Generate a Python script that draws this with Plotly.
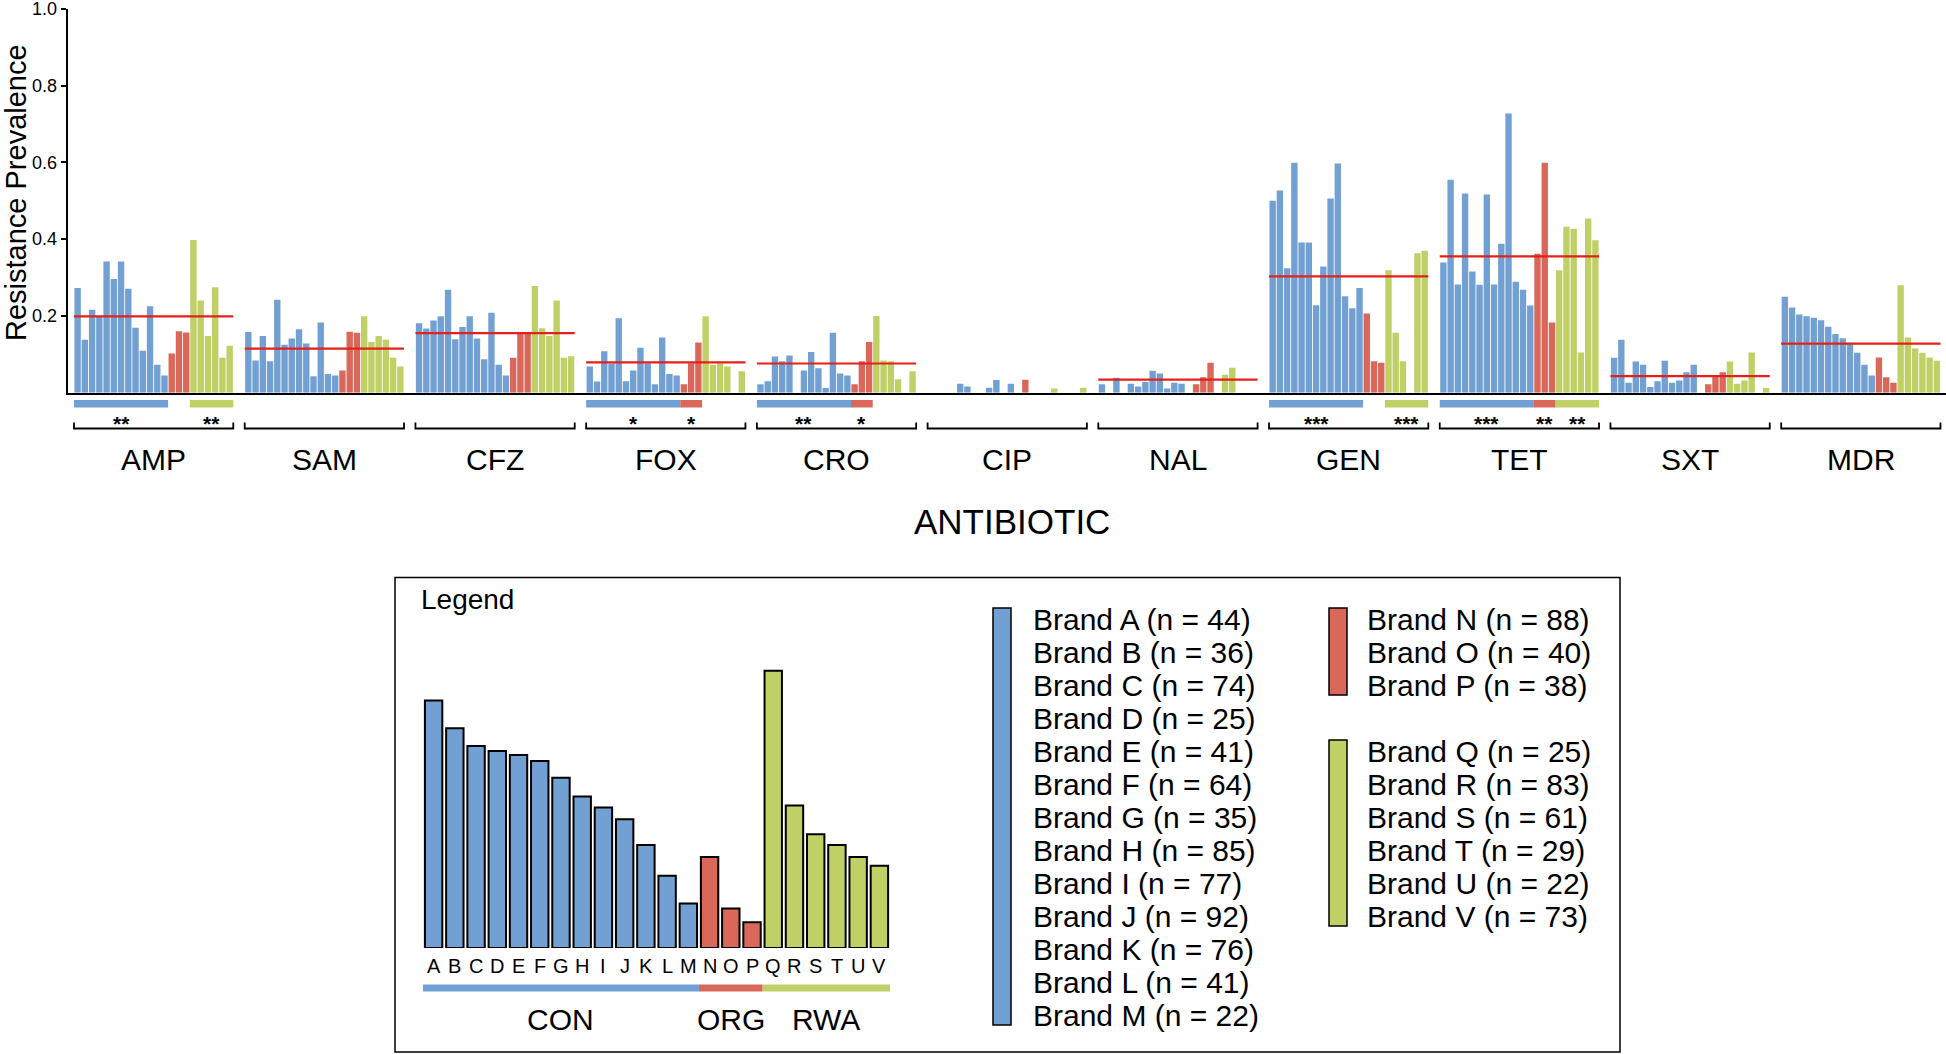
import plotly.graph_objects as go

# ---------------- data ----------------
antibiotics = ["AMP", "SAM", "CFZ", "FOX", "CRO", "CIP", "NAL", "GEN", "TET", "SXT", "MDR"]
brands = list("ABCDEFGHIJKLMNOPQRSTUV")
sample_n = [44, 36, 74, 25, 41, 64, 35, 85, 77, 92, 76, 41, 22, 88, 40, 38, 25, 83, 61, 29, 22, 73]
brand_category = ["CON"] * 13 + ["ORG"] * 3 + ["RWA"] * 6
categories = ["CON", "ORG", "RWA"]

AMP = [0.273, 0.138, 0.216, 0.199, 0.342, 0.296, 0.342, 0.271, 0.169, 0.109, 0.225, 0.073, 0.045,
       0.102, 0.160, 0.157, 0.398, 0.240, 0.148, 0.275, 0.091, 0.122]
SAM = [0.158, 0.084, 0.148, 0.082, 0.242, 0.125, 0.141, 0.165, 0.128, 0.043, 0.183, 0.049, 0.045,
       0.058, 0.159, 0.156, 0.199, 0.132, 0.148, 0.138, 0.091, 0.068]
CFZ = [0.181, 0.167, 0.188, 0.199, 0.268, 0.139, 0.171, 0.199, 0.141, 0.087, 0.208, 0.073, 0.045,
       0.091, 0.158, 0.155, 0.278, 0.168, 0.148, 0.240, 0.091, 0.095]
FOX = [0.068, 0.029, 0.108, 0.076, 0.194, 0.030, 0.058, 0.117, 0.077, 0.022, 0.144, 0.049, 0.045,
       0.022, 0.077, 0.131, 0.199, 0.073, 0.077, 0.068, 0.0, 0.056]
CRO = [0.022, 0.030, 0.094, 0.082, 0.097, 0.0, 0.058, 0.106, 0.064, 0.012, 0.156, 0.050, 0.045,
       0.022, 0.082, 0.132, 0.200, 0.084, 0.082, 0.035, 0.0, 0.056]
CIP = [0.0, 0.0, 0.0, 0.0, 0.023, 0.016, 0.0, 0.0, 0.013, 0.033, 0.0, 0.023, 0.0,
       0.034, 0.0, 0.0, 0.0, 0.011, 0.0, 0.0, 0.0, 0.013]
NAL = [0.022, 0.0, 0.039, 0.0, 0.023, 0.016, 0.028, 0.057, 0.050, 0.011, 0.026, 0.023, 0.0,
       0.022, 0.040, 0.078, 0.0, 0.047, 0.065, 0.0, 0.0, 0.0]
GEN = [0.500, 0.527, 0.324, 0.599, 0.391, 0.391, 0.228, 0.329, 0.506, 0.597, 0.251, 0.220, 0.273,
       0.206, 0.082, 0.078, 0.319, 0.156, 0.082, 0.0, 0.363, 0.370]
TET = [0.339, 0.555, 0.282, 0.519, 0.316, 0.281, 0.516, 0.282, 0.388, 0.727, 0.289, 0.268, 0.227,
       0.362, 0.599, 0.183, 0.319, 0.432, 0.427, 0.105, 0.454, 0.397]
SXT = [0.091, 0.138, 0.026, 0.081, 0.073, 0.015, 0.030, 0.083, 0.026, 0.032, 0.053, 0.073, 0.0,
       0.022, 0.043, 0.053, 0.081, 0.023, 0.032, 0.105, 0.0, 0.012]
MDR = [0.250, 0.222, 0.204, 0.199, 0.195, 0.189, 0.172, 0.153, 0.142, 0.130, 0.104, 0.073, 0.045,
       0.092, 0.040, 0.026, 0.280, 0.144, 0.115, 0.104, 0.092, 0.083]
resistance = [AMP, SAM, CFZ, FOX, CRO, CIP, NAL, GEN, TET, SXT, MDR]

overall_mean = [0.199, 0.115, 0.155, 0.079, 0.076, None, 0.034, 0.303, 0.355, 0.043, 0.128]

# significance: (antibiotic, category, stars)
sig_antibiotic = ["AMP", "AMP", "FOX", "FOX", "CRO", "CRO", "GEN", "GEN", "TET", "TET", "TET"]
sig_category = ["CON", "RWA", "CON", "ORG", "CON", "ORG", "CON", "RWA", "CON", "ORG", "RWA"]
sig_stars = ["**", "**", "*", "*", "**", "*", "***", "***", "***", "**", "**"]

y_ticks = [0.2, 0.4, 0.6, 0.8, 1.0]
y_ticklabels = ["0.2", "0.4", "0.6", "0.8", "1.0"]

# ---------------- style ----------------
W, H = 1946, 1054
FONT = "Arial, 'Liberation Sans', Helvetica, sans-serif"
colors = {"CON": "#72a0d3", "ORG": "#d9675a", "RWA": "#c0cf66"}
MEAN_COLOR = "#e3201b"
GROUP_STEP = 23.58
NB = len(brands)


def px(x):
    return x / W


def py(y):
    return 1 - y / H


cat_span = {}
for c in categories:
    idx = [i for i, bc in enumerate(brand_category) if bc == c]
    cat_span[c] = (min(idx) - 0.5, max(idx) + 0.5)

fig = go.Figure()

# main bars
for gi, ab in enumerate(antibiotics):
    vals = resistance[gi]
    for c in categories:
        idx = [i for i in range(NB) if brand_category[i] == c]
        fig.add_trace(go.Bar(
            x=[gi * GROUP_STEP + i for i in idx],
            y=[vals[i] for i in idx],
            width=0.88,
            marker=dict(color=colors[c], line=dict(width=0)),
            showlegend=False, hoverinfo="skip",
            xaxis="x", yaxis="y",
        ))

# mean lines
for gi, m in enumerate(overall_mean):
    if m is None:
        continue
    fig.add_trace(go.Scatter(
        x=[gi * GROUP_STEP - 0.5, gi * GROUP_STEP + NB - 0.5], y=[m, m],
        mode="lines", line=dict(color=MEAN_COLOR, width=2.2),
        showlegend=False, hoverinfo="skip", xaxis="x", yaxis="y",
    ))

shapes = []
annotations = []

# significance bars + stars
for ab, c, st in zip(sig_antibiotic, sig_category, sig_stars):
    gi = antibiotics.index(ab)
    a, b = cat_span[c]
    shapes.append(dict(type="rect", xref="x", yref="paper",
                       x0=gi * GROUP_STEP + a, x1=gi * GROUP_STEP + b,
                       y0=py(407.5), y1=py(400), fillcolor=colors[c], line=dict(width=0)))
    annotations.append(dict(xref="x", yref="paper", x=gi * GROUP_STEP + (a + b) / 2, y=py(423),
                            text=f"<b>{st}</b>", showarrow=False,
                            font=dict(size=21, color="black", family=FONT),
                            xanchor="center", yanchor="middle"))

# brackets + antibiotic labels
for gi, ab in enumerate(antibiotics):
    x0 = gi * GROUP_STEP - 0.5
    x1 = gi * GROUP_STEP + NB - 0.5
    shapes.append(dict(type="path", xref="x", yref="paper",
                       path=f"M {x0},{py(422.5)} L {x0},{py(428.5)} L {x1},{py(428.5)} L {x1},{py(422.5)}",
                       line=dict(color="black", width=1.8)))
    annotations.append(dict(xref="x", yref="paper", x=gi * GROUP_STEP + (NB - 1) / 2, y=py(459),
                            text=ab, showarrow=False, font=dict(size=30, color="black", family=FONT),
                            xanchor="center", yanchor="middle"))

# axis titles
annotations.append(dict(xref="paper", yref="paper", x=px(16), y=py(193), text="Resistance Prevalence",
                        textangle=-90, showarrow=False, font=dict(size=29, color="black", family=FONT),
                        xanchor="center", yanchor="middle"))
annotations.append(dict(xref="paper", yref="paper", x=px(1012), y=py(521), text="ANTIBIOTIC",
                        showarrow=False, font=dict(size=35, color="black", family=FONT),
                        xanchor="center", yanchor="middle"))

# ---------------- legend panel ----------------
shapes.append(dict(type="rect", xref="paper", yref="paper", x0=px(395), x1=px(1620),
                   y0=py(1052), y1=py(577.5), line=dict(color="black", width=1.5), fillcolor="rgba(0,0,0,0)"))
annotations.append(dict(xref="paper", yref="paper", x=px(419), y=py(599), text="Legend",
                        showarrow=False, font=dict(size=28, color="black", family=FONT),
                        xanchor="left", yanchor="middle"))

# mini bar chart (MDR profile)
fig.add_trace(go.Bar(
    x=list(range(NB)), y=MDR, width=0.82,
    marker=dict(color=[colors[c] for c in brand_category], line=dict(color="black", width=2)),
    showlegend=False, hoverinfo="skip", xaxis="x2", yaxis="y2",
))
for i, b in enumerate(brands):
    annotations.append(dict(xref="x2", yref="paper", x=i, y=py(966), text=b, showarrow=False,
                            font=dict(size=20, color="black", family=FONT),
                            xanchor="center", yanchor="middle"))
for c in categories:
    a, b = cat_span[c]
    shapes.append(dict(type="rect", xref="x2", yref="paper", x0=a, x1=b,
                       y0=py(991.5), y1=py(984.5), fillcolor=colors[c], line=dict(width=0)))
    annotations.append(dict(xref="x2", yref="paper", x=(a + b) / 2, y=py(1019), text=c, showarrow=False,
                            font=dict(size=30, color="black", family=FONT),
                            xanchor="center", yanchor="middle"))

# brand list with colour keys
LINE = 33.0
col_x = {"CON": 1031, "ORG": 1365, "RWA": 1365}
col_y0 = {"CON": 619, "ORG": 619, "RWA": 751}
key_x = {"CON": (993, 1011), "ORG": (1329, 1347), "RWA": (1329, 1347)}
for c in categories:
    idx = [i for i in range(NB) if brand_category[i] == c]
    for k, i in enumerate(idx):
        annotations.append(dict(xref="paper", yref="paper", x=px(col_x[c]), y=py(col_y0[c] + k * LINE),
                                text=f"Brand {brands[i]} (n = {sample_n[i]})", showarrow=False,
                                font=dict(size=30, color="black", family=FONT),
                                xanchor="left", yanchor="middle"))
    top = col_y0[c] - 11
    bot = col_y0[c] + (len(idx) - 1) * LINE + 10
    shapes.append(dict(type="rect", xref="paper", yref="paper", x0=px(key_x[c][0]), x1=px(key_x[c][1]),
                       y0=py(bot), y1=py(top), fillcolor=colors[c], line=dict(color="black", width=1.5)))

# ---------------- layout ----------------
x_min = -0.5 - (74 - 67.7) / 7.24
x_max = -0.5 + (1946 - 74) / 7.24

fig.update_layout(
    width=W, height=H,
    margin=dict(l=0, r=0, t=0, b=0),
    paper_bgcolor="white", plot_bgcolor="white",
    barmode="overlay",
    font=dict(family=FONT, color="black"),
    xaxis=dict(domain=[px(67.7), 1.0], range=[x_min, x_max], showline=True, linecolor="black",
               linewidth=2, showticklabels=False, ticks="", showgrid=False, zeroline=False,
               automargin=False, anchor="y"),
    yaxis=dict(domain=[py(392.7), py(8.8)], range=[0, 1.0], tickvals=y_ticks, ticktext=y_ticklabels,
               ticks="outside", ticklen=5, tickwidth=1.5, tickcolor="black", showline=True,
               linecolor="black", linewidth=2, showgrid=False, zeroline=False,
               ticklabeloverflow="allow",
               tickfont=dict(size=18, color="black", family=FONT), automargin=False, anchor="x"),
    xaxis2=dict(domain=[px(423), px(890)], range=[-0.5, NB - 0.5], visible=False, anchor="y2"),
    yaxis2=dict(domain=[py(948), py(651)], range=[0, 0.3], visible=False, anchor="x2"),
    shapes=shapes,
    annotations=annotations,
)

fig.write_html(
    "out.html",
    config={"displayModeBar": False},
    post_script="document.body.style.margin='0';document.body.style.padding='0';"
                "document.body.style.overflow='hidden';",
)
